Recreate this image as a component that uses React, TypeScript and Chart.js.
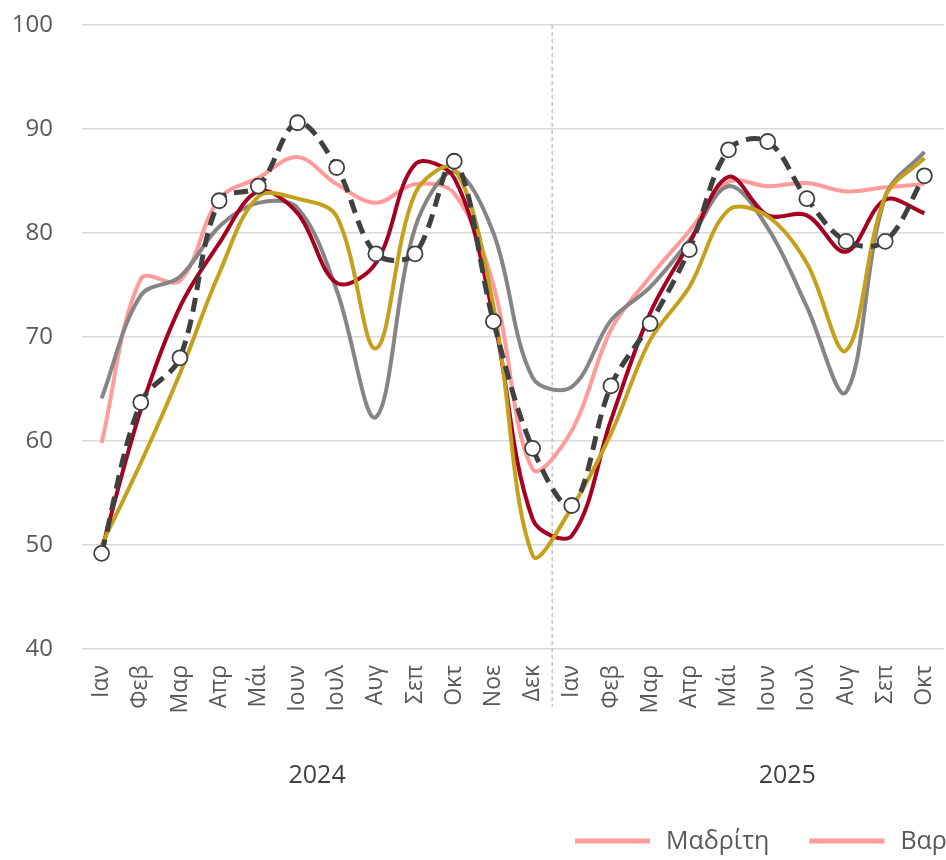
import React, { useEffect, useRef } from 'react';
import { Chart, registerables } from 'chart.js';

Chart.register(...registerables);

const MONTHS = ['Ιαν', 'Φεβ', 'Μαρ', 'Απρ', 'Μάι', 'Ιουν', 'Ιουλ', 'Αυγ', 'Σεπ', 'Οκτ', 'Νοε', 'Δεκ',
  'Ιαν', 'Φεβ', 'Μαρ', 'Απρ', 'Μάι', 'Ιουν', 'Ιουλ', 'Αυγ', 'Σεπ', 'Οκτ'];
const YEARS = ['2024', '2025'];
const Y_TICKS = [40, 50, 60, 70, 80, 90, 100];

const SERIES_DASHED = [49.2, 63.7, 68.0, 83.1, 84.5, 90.6, 86.3, 78.0, 78.0, 86.9, 71.5, 59.3,
  53.8, 65.3, 71.3, 78.4, 88.0, 88.8, 83.3, 79.2, 79.2, 85.5];
const SERIES_PINK = [59.8, 75.6, 75.4, 83.3, 85.3, 87.3, 84.7, 82.9, 84.7, 83.8, 75.0, 57.3,
  61.0, 70.7, 75.8, 80.2, 84.9, 84.5, 84.8, 84.0, 84.4, 84.7];
const SERIES_RED = [49.5, 63.0, 72.9, 79.0, 84.0, 81.9, 75.2, 77.1, 86.6, 85.3, 72.0, 52.5,
  50.9, 62.0, 72.3, 79.0, 85.4, 81.7, 81.7, 78.2, 83.2, 81.9];
const SERIES_GOLD = [50.0, 57.9, 66.5, 76.1, 83.5, 83.3, 81.6, 68.9, 83.8, 86.2, 73.0, 49.0,
  53.6, 60.7, 69.7, 74.8, 82.2, 81.6, 77.1, 68.7, 83.5, 87.2];
const SERIES_GREY = [64.1, 74.0, 75.8, 80.6, 82.9, 82.4, 74.5, 62.3, 80.5, 85.9, 80.0, 66.1,
  65.2, 71.6, 74.8, 79.3, 84.5, 80.5, 72.9, 64.7, 83.5, 87.8];

const LEGEND_LABELS = ['Μαδρίτη', 'Βαρκελώνη'];
const LEGEND_COLORS = ['#FF9B9B', '#FF9B9B'];

const FONT = "'Open Sans', sans-serif";

export default function App() {
  const ref = useRef<HTMLCanvasElement>(null);

  useEffect(() => {
    document.body.style.margin = '0';
    const canvas = ref.current;
    if (!canvas) return;

    const divider = {
      id: 'divider',
      beforeDatasetsDraw(chart: any) {
        const { ctx, chartArea, scales } = chart;
        const x = scales.x;
        const xd = (x.getPixelForTick(11) + x.getPixelForTick(12)) / 2;
        ctx.save();
        ctx.strokeStyle = '#BFBFBF';
        ctx.lineWidth = 1.3;
        ctx.setLineDash([4, 3]);
        ctx.beginPath();
        ctx.moveTo(xd, chartArea.top);
        ctx.lineTo(xd, chartArea.bottom + 58);
        ctx.stroke();
        ctx.restore();
      },
    };

    const decor = {
      id: 'decor',
      afterDraw(chart: any) {
        const { ctx, chartArea, scales } = chart;
        const x = scales.x;
        const step = x.getPixelForTick(1) - x.getPixelForTick(0);
        ctx.save();
        ctx.font = `25px ${FONT}`;
        ctx.fillStyle = '#404040';
        ctx.textAlign = 'center';
        ctx.textBaseline = 'middle';
        YEARS.forEach((y, i) => {
          const start = x.getPixelForTick(i * 12);
          ctx.fillText(y, start + 5.5 * step, chartArea.bottom + 127);
        });
        // legend
        ctx.font = `25px ${FONT}`;
        ctx.textAlign = 'left';
        let lx = 575;
        const ly = 841;
        LEGEND_LABELS.forEach((lab, i) => {
          ctx.strokeStyle = LEGEND_COLORS[i];
          ctx.lineWidth = 5;
          ctx.beginPath();
          ctx.moveTo(lx, ly);
          ctx.lineTo(lx + 75, ly);
          ctx.stroke();
          ctx.fillStyle = '#595959';
          ctx.fillText(lab, lx + 91, ly + 1);
          lx += 91 + ctx.measureText(lab).width + 40;
        });
        ctx.restore();
      },
    };

    const common = { tension: 0.35, pointRadius: 0, pointHoverRadius: 0, fill: false, borderWidth: 4 };

    const chart = new Chart(canvas, {
      type: 'line',
      data: {
        labels: MONTHS,
        datasets: [
          {
            ...common,
            label: 'Σειρά 5',
            data: SERIES_DASHED,
            borderColor: '#404040',
            borderDash: [14, 8],
            borderWidth: 5,
            pointRadius: 7.5,
            pointBackgroundColor: '#FFFFFF',
            pointBorderColor: '#404040',
            pointBorderWidth: 1.8,
          },
          { ...common, label: 'Σειρά 4', data: SERIES_GOLD, borderColor: '#C4A01C' },
          { ...common, label: 'Βαρκελώνη', data: SERIES_RED, borderColor: '#A50021' },
          { ...common, label: 'Σειρά 3', data: SERIES_GREY, borderColor: '#858585' },
          { ...common, label: 'Μαδρίτη', data: SERIES_PINK, borderColor: '#FF9B9B' },
        ],
      },
      options: {
        animation: false,
        responsive: false,
        maintainAspectRatio: false,
        layout: { autoPadding: false, padding: { top: 25, right: 2, left: 0, bottom: 0 } },
        plugins: { legend: { display: false }, tooltip: { enabled: false } },
        scales: {
          x: {
            offset: true,
            grid: { display: false, drawTicks: false },
            border: { display: false },
            ticks: {
              autoSkip: false,
              minRotation: 90,
              maxRotation: 90,
              padding: 16,
              color: '#595959',
              font: { family: FONT, size: 23 },
            },
            afterFit(scale: any) {
              scale.height = 211;
              scale.paddingLeft = 0;
              scale.paddingRight = 0;
            },
          },
          y: {
            min: 40,
            max: 100,
            afterBuildTicks(scale: any) {
              scale.ticks = Y_TICKS.map((v) => ({ value: v }));
            },
            grid: { color: '#D9D9D9', lineWidth: 1.6, drawTicks: false },
            border: { display: false },
            ticks: {
              padding: 29,
              color: '#595959',
              font: { family: FONT, size: 24 },
            },
            afterFit(scale: any) {
              scale.width = 82;
              scale.paddingTop = 0;
              scale.paddingBottom = 0;
            },
          },
        },
      },
      plugins: [divider, decor],
    });

    return () => chart.destroy();
  }, []);

  return (
    <div style={{ width: 946, height: 860, overflow: 'hidden' }}>
      <canvas ref={ref} width={946} height={860} style={{ display: 'block', width: 946, height: 860 }} />
    </div>
  );
}
